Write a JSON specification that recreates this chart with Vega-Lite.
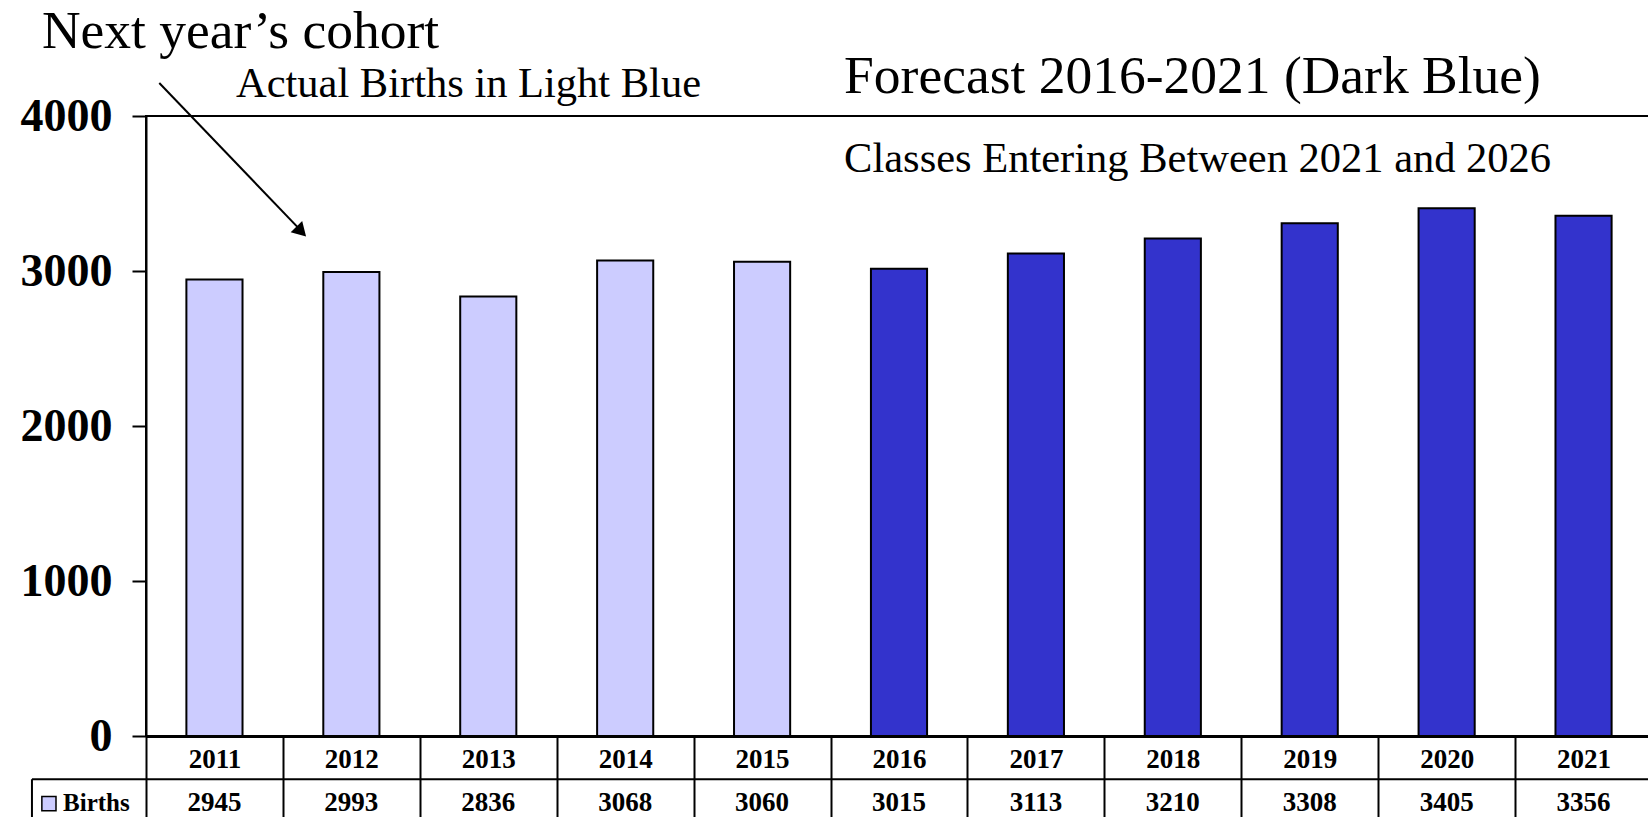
{
  "$schema": "https://vega.github.io/schema/vega-lite/v6.json",
  "width": 1506,
  "height": 620,
  "autosize": {"type": "none"},
  "padding": {"left": 146, "top": 116, "right": 0, "bottom": 81},
  "background": "white",
  "config": {"view": {"stroke": "black", "strokeWidth": 2}, "font": "Liberation Serif"},
  "data": {"values": [
    {"year": "2011", "births": 2945, "type": "Actual"},
    {"year": "2012", "births": 2993, "type": "Actual"},
    {"year": "2013", "births": 2836, "type": "Actual"},
    {"year": "2014", "births": 3068, "type": "Actual"},
    {"year": "2015", "births": 3060, "type": "Actual"},
    {"year": "2016", "births": 3015, "type": "Forecast"},
    {"year": "2017", "births": 3113, "type": "Forecast"},
    {"year": "2018", "births": 3210, "type": "Forecast"},
    {"year": "2019", "births": 3308, "type": "Forecast"},
    {"year": "2020", "births": 3405, "type": "Forecast"},
    {"year": "2021", "births": 3356, "type": "Forecast"}
  ]},
  "resolve": {"scale": {"x": "independent"}},
  "layer": [
    {
      "mark": {"type": "bar", "width": {"band": 0.41}, "stroke": "black", "strokeWidth": 2},
      "encoding": {
        "x": {"field": "year", "type": "nominal", "sort": null,
          "scale": {"paddingInner": 0, "paddingOuter": 0},
          "axis": {"title": null, "labelAngle": 0, "labelFont": "Liberation Serif", "labelFontWeight": "bold", "labelFontSize": 27, "labelColor": "black", "labelBaseline": "middle", "labelPadding": -59, "tickBand": "extent", "tickSize": 82, "tickColor": "black", "tickWidth": 2, "domainColor": "black", "domainWidth": 3, "grid": false}},
        "y": {"field": "births", "type": "quantitative",
          "scale": {"domain": [0, 4000], "nice": false},
          "axis": {"title": null, "values": [0, 1000, 2000, 3000, 4000], "format": "d", "labelFont": "Liberation Serif", "labelFontSize": 46, "labelFontWeight": "bold", "labelColor": "black", "labelPadding": 20, "tickSize": 14, "tickColor": "black", "tickWidth": 2, "domainColor": "black", "domainWidth": 2, "grid": false}},
        "color": {"field": "type", "type": "nominal", "scale": {"domain": ["Actual", "Forecast"], "range": ["#CCCCFF", "#3333CC"]}, "legend": null}
      }
    },
    {
      "mark": {"type": "text", "font": "Liberation Serif", "fontWeight": "bold", "fontSize": 27, "baseline": "middle", "color": "black"},
      "encoding": {
        "x": {"field": "year", "type": "nominal", "sort": null, "scale": {"paddingInner": 0, "paddingOuter": 0}, "axis": null},
        "y": {"datum": -430},
        "text": {"field": "births"}
      }
    },
    {
      "data": {"values": [{}]},
      "mark": {"type": "rule", "strokeWidth": 2, "color": "black"},
      "encoding": {
        "x": {"datum": -0.833, "type": "quantitative", "scale": {"domain": [0, 11], "nice": false, "zero": false}, "axis": null},
        "x2": {"datum": 11},
        "y": {"datum": -279}
      }
    },
    {
      "data": {"values": [{}]},
      "mark": {"type": "rule", "strokeWidth": 2, "color": "black"},
      "encoding": {
        "x": {"datum": -0.833, "type": "quantitative", "scale": {"domain": [0, 11], "nice": false, "zero": false}, "axis": null},
        "y": {"datum": -279},
        "y2": {"datum": -570}
      }
    },
    {
      "data": {"values": [{}]},
      "mark": {"type": "rule", "strokeWidth": 2, "color": "black"},
      "encoding": {
        "x": {"datum": 0.097, "type": "quantitative", "scale": {"domain": [0, 11], "nice": false, "zero": false}, "axis": null},
        "x2": {"datum": 1.13},
        "y": {"datum": 4213},
        "y2": {"datum": 3262}
      }
    },
    {
      "data": {"values": [{}]},
      "mark": {"type": "point", "shape": "triangle-down", "filled": true, "color": "black", "opacity": 1, "size": 256, "angle": 316},
      "encoding": {
        "x": {"datum": 1.134, "type": "quantitative", "scale": {"domain": [0, 11], "nice": false, "zero": false}, "axis": null},
        "y": {"datum": 3254}
      }
    },
    {
      "data": {"values": [{}]},
      "mark": {"type": "point", "shape": "square", "filled": true, "fill": "#CCCCFF", "stroke": "black", "strokeWidth": 1.5, "opacity": 1, "size": 200},
      "encoding": {
        "x": {"datum": -0.709, "type": "quantitative", "scale": {"domain": [0, 11], "nice": false, "zero": false}, "axis": null},
        "y": {"datum": -436}
      }
    },
    {
      "data": {"values": [{}]},
      "mark": {"type": "text", "text": "Births", "font": "Liberation Serif", "fontWeight": "bold", "fontSize": 25, "align": "left", "baseline": "middle", "color": "black"},
      "encoding": {
        "x": {"datum": -0.606, "type": "quantitative", "scale": {"domain": [0, 11], "nice": false, "zero": false}, "axis": null},
        "y": {"datum": -430}
      }
    },
    {
      "data": {"values": [{}]},
      "mark": {"type": "text", "text": "Next year’s cohort", "font": "Liberation Serif", "fontSize": 53.5, "align": "left", "baseline": "alphabetic", "color": "black"},
      "encoding": {
        "x": {"datum": -0.76, "type": "quantitative", "scale": {"domain": [0, 11], "nice": false, "zero": false}, "axis": null},
        "y": {"datum": 4441}
      }
    },
    {
      "data": {"values": [{}]},
      "mark": {"type": "text", "text": "Actual Births in Light Blue", "font": "Liberation Serif", "fontSize": 42.5, "align": "left", "baseline": "alphabetic", "color": "black"},
      "encoding": {
        "x": {"datum": 0.657, "type": "quantitative", "scale": {"domain": [0, 11], "nice": false, "zero": false}, "axis": null},
        "y": {"datum": 4123}
      }
    },
    {
      "data": {"values": [{}]},
      "mark": {"type": "text", "text": "Forecast 2016-2021 (Dark Blue)", "font": "Liberation Serif", "fontSize": 53.5, "align": "left", "baseline": "alphabetic", "color": "black"},
      "encoding": {
        "x": {"datum": 5.099, "type": "quantitative", "scale": {"domain": [0, 11], "nice": false, "zero": false}, "axis": null},
        "y": {"datum": 4150}
      }
    },
    {
      "data": {"values": [{}]},
      "mark": {"type": "text", "text": "Classes Entering Between 2021 and 2026", "font": "Liberation Serif", "fontSize": 42.5, "align": "left", "baseline": "alphabetic", "color": "black"},
      "encoding": {
        "x": {"datum": 5.099, "type": "quantitative", "scale": {"domain": [0, 11], "nice": false, "zero": false}, "axis": null},
        "y": {"datum": 3641}
      }
    }
  ]
}
